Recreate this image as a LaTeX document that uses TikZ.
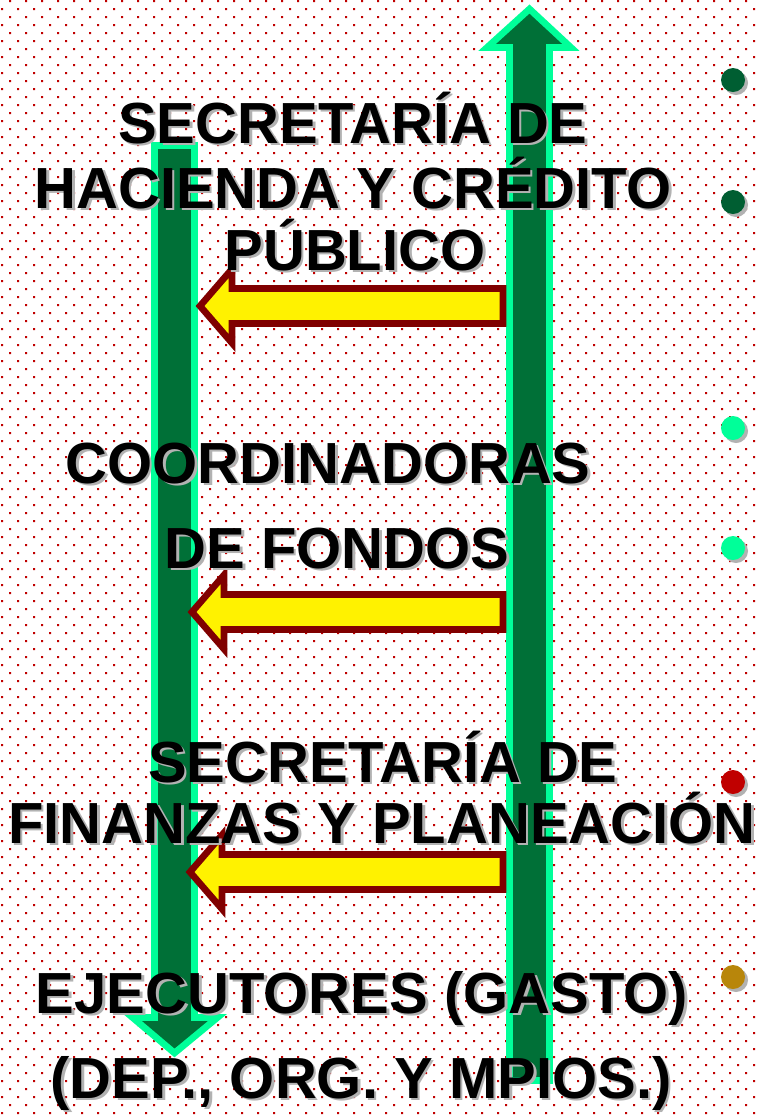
\documentclass[tikz,border=0pt]{standalone}
\usepackage{fontspec}
\setmainfont{Liberation Sans}
\usepackage{tikz}
\usetikzlibrary{positioning}

\definecolor{dotred}{RGB}{192,0,0}
\definecolor{darkgreen}{RGB}{0,112,55}
\definecolor{bulletgreen}{RGB}{0,94,50}
\definecolor{springgreen}{RGB}{0,255,153}
\definecolor{maroon}{RGB}{128,0,0}
\definecolor{gold}{RGB}{184,134,11}

% text with a soft grey shadow behind it
\newcommand{\shtext}[1]{\makebox[0pt][l]{\hspace{2pt}\raisebox{-2pt}{\textcolor{black!30}{#1}}}#1}

\tikzset{
  greenarrow/.style={fill=darkgreen, draw=springgreen, line width=5, line join=miter},
  yellowarrow/.style={fill=yellow, draw=maroon, line width=5, line join=miter},
  lbl/.style={inner sep=0, anchor=base, font=\fontsize{43.5}{50}\selectfont\bfseries, text=black},
  bullet/.style={circle, inner sep=0, minimum size=18},
  bulletshadow/.style={bullet, fill=black!30}
}

\begin{document}
\begin{tikzpicture}[x=0.75pt, y=-0.75pt]
    \useasboundingbox (0,0) rectangle (760,1115);
    % dotted background
    \fill[white] (0,0) rectangle (760,1115);
    \foreach \y in {0,16,...,1112}
      \fill[dotred] \foreach \x in {9,25,...,759} {(\x,\y) rectangle ++(2,2)};
    \foreach \y in {8,24,...,1112}
      \fill[dotred] \foreach \x in {1,17,...,759} {(\x,\y) rectangle ++(2,2)};

    % big green arrows
    \draw[greenarrow] (154.5,145.5) -- (194.5,145.5) -- (194.5,1017.5) -- (217.5,1017.5)
      -- (174.5,1053) -- (132.5,1017.5) -- (154.5,1017.5) -- cycle;
    \draw[greenarrow] (509.5,1080.5) -- (549.5,1080.5) -- (549.5,47.5) -- (571,47.5)
      -- (529.5,9) -- (487,47.5) -- (509.5,47.5) -- cycle;

    % yellow arrows
    \foreach \tipx/\cy in {200/306, 192/612, 190/872}
      \draw[yellowarrow] (\tipx,\cy) -- (\tipx+32,\cy-37) -- (\tipx+32,\cy-17.5)
        -- (503,\cy-17.5) -- (503,\cy+17.5) -- (\tipx+32,\cy+17.5)
        -- (\tipx+32,\cy+37) -- cycle;

    % labels
    \node[lbl] (shcp1) at (353,143) {\shtext{SECRETARÍA DE}};
    \node[lbl] (shcp2) at (353,208) {\shtext{HACIENDA Y CRÉDITO}};
    \node[lbl] (shcp3) at (355,270) {\shtext{PÚBLICO}};
    \node[lbl] (coord1) at (328,483) {\shtext{COORDINADORAS}};
    \node[lbl] (coord2) at (337,568) {\shtext{DE FONDOS}};
    \node[lbl] (sefipla1) at (383,782) {\shtext{SECRETARÍA DE}};
    \node[lbl] (sefipla2) at (382,843) {\shtext{FINANZAS Y PLANEACIÓN}};
    \node[lbl] (ejec1) at (362,1013) {\shtext{EJECUTORES (GASTO)}};
    \node[lbl] (ejec2) at (361,1098) {\shtext{(DEP., ORG. Y MPIOS.)}};

    % bullets
    \foreach \by/\bc in {80/bulletgreen, 202/bulletgreen, 428/springgreen,
                         548/springgreen, 782/dotred, 977/gold} {
      \node[bulletshadow] (bs\by) at (736,\by+3) {};
      \node[bullet, fill=\bc] (b\by) at (733,\by) {};
    }
\end{tikzpicture}
\end{document}
